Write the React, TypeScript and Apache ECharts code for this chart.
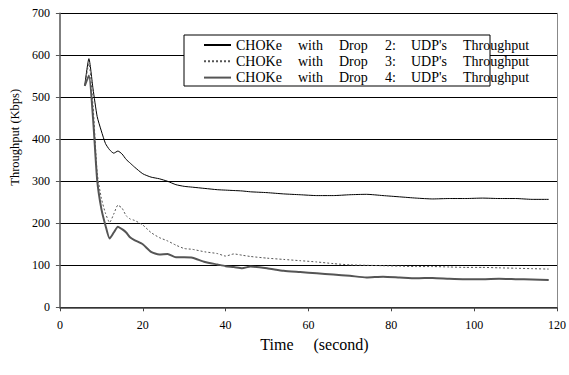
import React, { useEffect, useRef } from "react";
import * as echarts from "echarts";

const times = [6, 7, 8, 9, 10, 11, 12, 13, 14, 15, 16, 17, 18, 20, 22, 24, 26, 28, 30, 32, 35, 38, 40, 42, 44, 46, 50, 54, 58, 62, 66, 70, 74, 78, 82, 86, 90, 94, 98, 102, 106, 110, 114, 118];
const drop2 = [528, 592, 520, 454, 420, 390, 375, 367, 372, 365, 352, 343, 334, 318, 310, 306, 300, 292, 288, 286, 283, 280, 279, 278, 277, 275, 273, 270, 268, 266, 266, 268, 269, 266, 263, 260, 258, 259, 259, 260, 259, 259, 257, 257];
const drop3 = [528, 580, 480, 320, 260, 224, 202, 222, 243, 236, 218, 210, 207, 196, 178, 166, 158, 148, 140, 138, 132, 128, 122, 127, 124, 121, 117, 114, 111, 108, 104, 101, 100, 99, 98, 97, 97, 96, 95, 95, 94, 93, 92, 91];
const drop4 = [527, 552, 450, 303, 235, 195, 164, 178, 192, 186, 178, 166, 160, 150, 132, 126, 127, 119, 119, 118, 108, 102, 98, 96, 93, 97, 93, 87, 84, 81, 78, 75, 71, 73, 71, 69, 70, 68, 67, 67, 68, 67, 66, 65];
const seriesNames = [
  "CHOKe with Drop 2: UDP's Throughput",
  "CHOKe with Drop 3: UDP's Throughput",
  "CHOKe with Drop 4: UDP's Throughput",
];
const yTicks = { min: 0, max: 700, interval: 100 };
const xTicks = { min: 0, max: 120, interval: 20 };

const FONT = "'Liberation Serif', 'Times New Roman', serif";
const wordWidths = [62, 41, 46, 26, 52, 0];

export default function App() {
  const ref = useRef<HTMLDivElement>(null);
  useEffect(() => {
    if (!ref.current) return;
    const chart = echarts.init(ref.current, undefined, { renderer: "svg" });
    const rich: Record<string, any> = {};
    wordWidths.forEach((w, i) => {
      rich["w" + i] = { fontFamily: FONT, fontSize: 14, color: "#000", ...(w ? { width: w } : {}) };
    });
    const pair = (vals: number[]) => times.map((t, i) => [t, vals[i]]);
    chart.setOption({
      animation: false,
      backgroundColor: "#fff",
      textStyle: { fontFamily: FONT },
      grid: { left: 56, right: 10.5, top: 13.3, bottom: 67.7 },
      legend: {
        orient: "vertical",
        left: 203,
        top: 38,
        padding: 0,
        itemWidth: 27,
        itemHeight: 14,
        itemGap: 2.3,
        z: 5,
        data: seriesNames,
        itemStyle: { opacity: 0, borderWidth: 0 },
        formatter: (name: string) =>
          name
            .split(" ")
            .map((w, i) => `{w${i}|${w}}`)
            .join(""),
        textStyle: { fontFamily: FONT, fontSize: 14, color: "#000", rich },
      },
      graphic: [
        {
          type: "rect",
          z: 3,
          shape: { x: 184, y: 35, width: 306, height: 51 },
          style: { fill: "#fff", stroke: "#000", lineWidth: 1 },
        },
      ],
      xAxis: {
        type: "value",
        ...xTicks,
        name: "Time     (second)",
        nameLocation: "middle",
        nameGap: 26,
        nameTextStyle: { fontFamily: FONT, fontSize: 16, color: "#000", fontWeight: "normal", padding: [0, 0, 0, 12] },
        axisLine: { lineStyle: { color: "#444", width: 1.5 } },
        axisTick: { length: 4, lineStyle: { color: "#444" } },
        axisLabel: { fontFamily: FONT, fontSize: 12, color: "#000", margin: 12 },
        splitLine: { show: false },
      },
      yAxis: [
        {
          type: "value",
          ...yTicks,
          name: "Throughput (Kbps)",
          nameLocation: "middle",
          nameGap: 30,
          nameTextStyle: { fontFamily: FONT, fontSize: 12.5, color: "#000", fontWeight: "normal", padding: [0, 0, 0, 46] },
          axisLine: { show: true, lineStyle: { color: "#555", width: 1.5 } },
          axisTick: { show: true, length: 4, lineStyle: { color: "#555" } },
          axisLabel: { fontFamily: FONT, fontSize: 12, color: "#000", margin: 10 },
          splitLine: { show: true, lineStyle: { color: "#000", width: 1 } },
        },
        {
          type: "value",
          ...yTicks,
          position: "right",
          axisLine: { show: true, lineStyle: { color: "#888", width: 1 } },
          axisTick: { show: false },
          axisLabel: { show: false },
          splitLine: { show: false },
        },
      ],
      series: [
        {
          name: seriesNames[0],
          type: "line",
          data: pair(drop2),
          symbol: "none",
          smooth: 0.2,
          lineStyle: { color: "#000", width: 1 },
          itemStyle: { color: "#000" },
        },
        {
          name: seriesNames[1],
          type: "line",
          data: pair(drop3),
          symbol: "none",
          smooth: 0.2,
          lineStyle: { color: "#555", width: 1, type: [2, 2] },
          itemStyle: { color: "#555" },
        },
        {
          name: seriesNames[2],
          type: "line",
          data: pair(drop4),
          symbol: "none",
          smooth: 0.2,
          lineStyle: { color: "#555", width: 2 },
          itemStyle: { color: "#555" },
        },
      ],
    });
    return () => chart.dispose();
  }, []);
  return <div ref={ref} style={{ width: 569, height: 375, position: "fixed", left: 0, top: 0 }} />;
}
